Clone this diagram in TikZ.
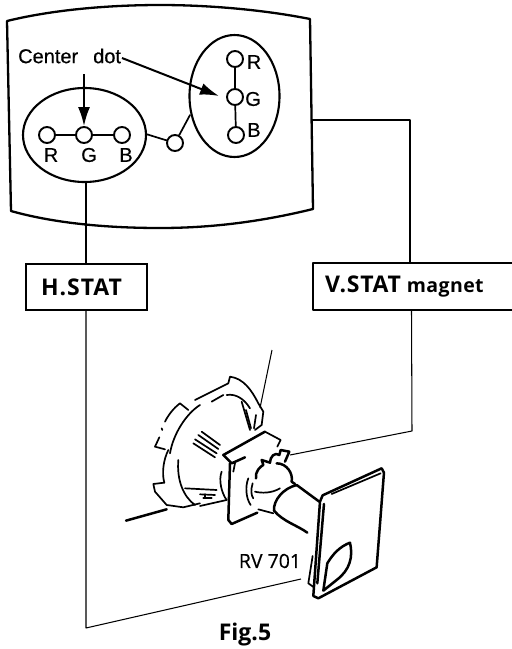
\documentclass[tikz,border=0pt]{standalone}
\usepackage{fontspec}
\setmainfont[FakeBold=0.4]{Liberation Sans}
\newfontfamily\labfont{Open Sans}
\tikzset{
  thick line/.style={line width=2.3pt,line cap=round,line join=round},
  thin line/.style={line width=1.7pt,line cap=round,line join=round},
  wire/.style={line width=1.05pt,line join=round},
  dotc/.style={circle,draw,line width=1.9pt,minimum size=16pt,inner sep=0pt},
  spot/.style={ellipse,draw,line width=2.1pt,inner sep=0pt},
  rgb/.style={font=\fontsize{20}{20}\selectfont,inner sep=0pt},
  statbox/.style={draw,line width=1.05pt,inner sep=0pt,font=\labfont\bfseries},
  ink/.style={line width=1.7pt,line cap=round,line join=round},
  inkb/.style={line width=2.5pt,line cap=round,line join=round},
  pointer/.style={line width=2pt,-{Latex[length=19pt,width=12pt]}}
}
\usetikzlibrary{shapes.geometric,arrows.meta}
\begin{document}
\begin{tikzpicture}[x=1pt,y=-1pt]
\useasboundingbox (0,0) rectangle (512,649);
% screen
\draw[thick line] (7,21) .. controls (60,8) and (120,5) .. (160,5) .. controls (210,5) and (265,10) .. (310,19)
  -- (313,209) .. controls (260,222) and (210,228) .. (160,228) .. controls (100,228) and (50,222) .. (11,211) -- cycle;
% spots
\node[spot,minimum width=123pt,minimum height=94pt] (hspot) at (84.5,135) {};
\node[spot,minimum width=90pt,minimum height=122pt] (vspot) at (234.5,96) {};
\node[dotc] (hr) at (47,135) {};
\node[dotc] (hg) at (84,135) {};
\node[dotc] (hb) at (122,135) {};
\node[dotc] (vr) at (235,59) {};
\node[dotc] (vg) at (235,97) {};
\node[dotc] (vb) at (236,135) {};
\node[dotc] (mid) at (175,143) {};
\draw[thin line] (hr) -- (hg);
\draw[thin line] (hg) -- (hb);
\draw[thin line] (vr) -- (vg);
\draw[thin line] (vg) -- (vb);
\draw[thin line] (146,134) -- (mid);
\draw[thin line] (mid) -- (190,115);
\node[rgb] (lr) at (51,155) {R};
\node[rgb] (lg) at (89,155) {G};
\node[rgb] (lb) at (126,155) {B};
\node[rgb] (lvr) at (254,62) {R};
\node[rgb] (lvg) at (253,99) {G};
\node[rgb] (lvb) at (254,130) {B};
\node[rgb,anchor=west] (cd) at (18,56) {Center\hspace{15pt}dot};
\coordinate (ca) at (122,58);
\coordinate (cb) at (219,96);
\coordinate (cc) at (84,74);
\draw[pointer] (ca) -- (cb);
\draw[pointer] (cc) -- (hg.north);
% boxes
\node[statbox,minimum width=121pt,minimum height=46pt] (hstat) at (86.5,287) {};
\node[inner sep=0pt,anchor=west,font=\labfont\bfseries] (htext) at (41,287) {\fontsize{23}{23}\selectfont\addfontfeature{LetterSpace=4}H.STAT};
\coordinate (vl) at (313,263);
\coordinate (vt) at (516,263);
\coordinate (vlb) at (313,310);
\coordinate (vbr) at (516,310);
\draw[wire] (vt) -- (vl) -- (vlb) -- (vbr);
\node[inner sep=0pt,anchor=west,font=\labfont\bfseries] (vstat) at (325,287) {{\fontsize{23}{23}\selectfont\addfontfeature{LetterSpace=3}V.STAT}\hspace{6pt}{\fontsize{19.5}{19.5}\selectfont\addfontfeature{LetterSpace=2}magnet}};
% wires
\coordinate (w1) at (311,120);
\coordinate (w2) at (410,120);
\coordinate (w3) at (410,263);
\coordinate (w4) at (411.5,310);
\coordinate (w5) at (412,431);
\coordinate (w6) at (290,455);
\coordinate (w7) at (86,264);
\coordinate (w8) at (86,310);
\coordinate (w9) at (86,628);
\coordinate (w10) at (301,579);
\coordinate (w11) at (272,350);
\coordinate (w12) at (260,408);
\coordinate (w13) at (86,182);
\draw[wire] (w1) -- (w2) -- (w3);
\draw[wire] (w4) -- (w5) -- (w6);
\draw[wire] (w13) -- (w7);
\draw[wire] (w8) -- (w9) -- (w10);
\draw[wire] (w11) -- (w12);
% tube
\begin{scope}[shift={(120,350)},x=.3333pt,y=-.3333pt]
\draw[inkb] (18,512) -- (140,478);
% outer rim and tabs
\draw[ink] (135,298) -- (105,290) -- (118,262);
\draw[ink] (125,235) -- (127,240);
\draw[ink] (135,215) .. controls (145,195) and (160,175) .. (180,160) -- (205,180);
\draw[ink] (225,150) -- (325,100) -- (330,80) .. controls (370,85) and (395,120) .. (415,160) -- (430,185) -- (425,225) -- (405,240);
\draw[ink] (145,300) .. controls (130,330) and (125,370) .. (133,398);
\draw[ink] (133,398) -- (100,402) -- (105,425) -- (140,465) -- (190,472) -- (240,460);
% inner rim
\draw[ink] (150,310) .. controls (160,250) and (200,190) .. (240,165);
\draw[ink] (275,155) -- (310,135);
\draw[ink] (320,135) .. controls (350,130) and (375,150) .. (390,175);
\draw[ink] (175,330) .. controls (170,390) and (190,440) .. (225,465);
\draw[ink] (240,468) -- (320,450);
% stripes
\draw[ink] (245,245) -- (300,285);
\draw[ink] (235,255) -- (295,297);
\draw[ink] (225,268) -- (290,310);
\draw[ink] (220,280) -- (285,322);
\draw[ink] (365,155) -- (390,240);
\draw[ink] (378,180) -- (393,235);
\draw[ink] (408,195) -- (402,235);
\draw[ink] (195,415) -- (290,420);
\draw[ink] (240,433) -- (285,435);
\draw[ink] (255,433) -- (255,445);
\draw[ink] (250,445) -- (275,445);
% plate
\draw[inkb] (310,315) -- (435,245);
\draw[ink] (435,245) -- (482,270) -- (472,290);
\draw[inkb] (310,315) -- (335,340) -- (375,322);
\draw[inkb] (330,340) -- (325,510) -- (335,522) -- (412,488);
\draw[ink] (345,340) -- (340,365);
\draw[ink] (305,365) .. controls (295,390) and (305,430) .. (320,450);
% coil and socket
\draw[ink] (385,385) .. controls (375,410) and (378,445) .. (392,465);
\draw[ink] (398,400) .. controls (392,420) and (393,435) .. (400,445);
\draw[inkb] (408,385) .. controls (405,365) and (420,350) .. (430,345) -- (425,330) -- (450,338) .. controls (450,320) and (465,305) .. (478,315) -- (482,300) -- (508,305) -- (495,335);
\draw[inkb] (470,340) .. controls (500,340) and (520,370) .. (515,395) -- (525,402);
\draw[ink] (415,478) -- (460,490);
\draw[ink] (405,425) .. controls (425,430) and (455,430) .. (480,415);
% neck
\draw[inkb] (530,405) .. controls (490,415) and (460,450) .. (462,482);
\draw[inkb] (530,405) -- (598,455);
\draw[inkb] (462,482) .. controls (490,515) and (530,525) .. (562,548);
% board
\draw[inkb] (608,436) -- (785,355) -- (792,368) -- (770,652) -- (595,745) -- (580,738) -- (600,455) -- cycle;
\draw[ink] (635,432) -- (782,370);
\draw[inkb] (612,462) -- (592,700);
\draw[ink] (578,618) -- (565,700) -- (582,712);
\draw[inkb] (622,640) .. controls (640,610) and (660,590) .. (690,578) .. controls (700,620) and (690,660) .. (650,690) -- (610,722) -- cycle;
\end{scope}
\node[inner sep=0pt,font=\labfont\addfontfeature{FakeBold=0.4}\fontsize{19.5}{19.5}\selectfont] (rv) at (270,561) {RV 701};
\node[inner sep=0pt,font=\labfont\bfseries\fontsize{23}{23}\selectfont] (fig) at (245,635) {Fig.5};
\end{tikzpicture}
\end{document}
